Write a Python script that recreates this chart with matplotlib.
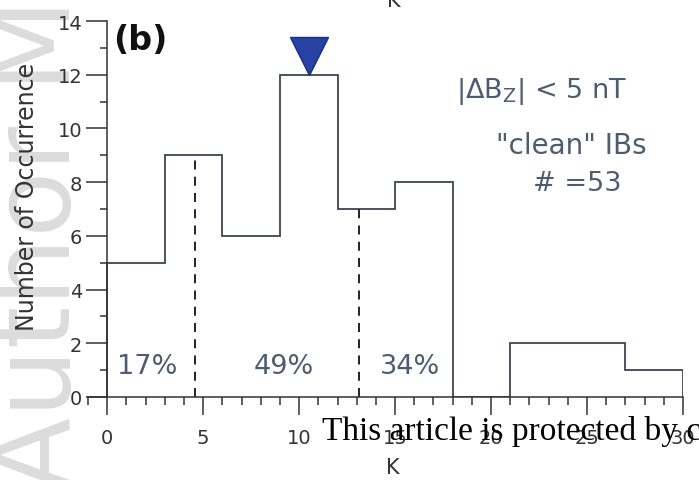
import matplotlib
matplotlib.use("Agg")
import matplotlib.pyplot as plt
from matplotlib.ticker import MultipleLocator

# ---- data ----
bin_edges = [0, 3, 6, 9, 12, 15, 18, 21, 24, 27, 30]
counts = [5, 9, 6, 12, 7, 8, 0, 2, 2, 1]
split_x = [4.6, 13.1]
split_top = [9, 7]
pct_labels = ["17%", "49%", "34%"]
pct_x = [2.1, 9.2, 15.8]
pct_y = 1.15
peak_x = 10.5
peak_y = 12.7
x_ticks = [0, 5, 10, 15, 20, 25, 30]
y_ticks = [0, 2, 4, 6, 8, 10, 12, 14]

plt.rcParams['font.family'] = ['DejaVu Sans']

W, H = 699, 481
fig = plt.figure(figsize=(W / 100, H / 100), dpi=100)

# watermark (behind everything)
fig.text(40 / W, -0.02, "Author Manuscript", rotation=90, ha='center', va='bottom',
         fontsize=78, color='#dcdcdc', zorder=-5)

ax = fig.add_axes([88 / W, (H - 398) / H, (683 - 88) / W, 376 / H])
ax.patch.set_alpha(0)

line_col = '#3c4652'
ax.stairs(counts, bin_edges, color=line_col, linewidth=1.3, baseline=0)

for xv, top in zip(split_x, split_top):
    ax.plot([xv, xv], [0, top], color='#111111', linestyle=(0, (5, 4)), linewidth=1.3)

txt_col = '#4d5c70'
for lab, xv in zip(pct_labels, pct_x):
    ax.text(xv, pct_y, lab, ha='center', va='center', fontsize=19.5, color=txt_col)

ax.plot([peak_x], [peak_y], marker='v', markersize=27, color='#2742a2',
        markeredgecolor='#1c2f80', markeredgewidth=1, linestyle='none', clip_on=False)

ax.text(0.3, 13.3, "(b)", fontsize=24, fontweight='bold', color='#111111', va='center', ha='left')

ax.text(22.65, 11.4, r"$|\Delta\mathrm{B_Z}|$ < 5 nT", ha='center', va='center',
        fontsize=19.5, color=txt_col)
ax.text(24.2, 9.4, "\"clean\" IBs", ha='center', va='center', fontsize=20, color=txt_col)
ax.text(24.5, 7.95, "# =53", ha='center', va='center', fontsize=19.5, color=txt_col)

ax.set_xlim(-1, 30)
ax.set_ylim(0, 14)
for s in ['top', 'right']:
    ax.spines[s].set_visible(False)
ax.spines['left'].set_position(('data', 0))
ax.spines['left'].set_bounds(0, 14)
for s in ['left', 'bottom']:
    ax.spines[s].set_color('#333333')
    ax.spines[s].set_linewidth(1.1)

ax.set_xticks(x_ticks)
ax.set_yticks(y_ticks)
ax.xaxis.set_minor_locator(MultipleLocator(1))
ax.yaxis.set_minor_locator(MultipleLocator(1))
ax.tick_params(axis='x', which='major', direction='out', length=13, width=1.1, pad=9,
               labelsize=14, colors='#333333')
ax.tick_params(axis='x', which='minor', direction='out', length=5.5, width=1.1, colors='#333333')
ax.tick_params(axis='y', which='major', direction='out', length=15, width=1.1, pad=3,
               labelsize=14, colors='#333333')
ax.tick_params(axis='y', which='minor', direction='out', length=5, width=1.1, colors='#333333')

ax.set_xlabel("K", fontsize=15, color='#333333')
ax.xaxis.set_label_coords((393 - 88) / 595, -0.16)
ax.set_ylabel("Number of Occurrence", fontsize=17, color='#333333')
ax.yaxis.set_label_coords(-0.082, 0.535)

# cut-off label from panel above
fig.text(394 / W, 1 - 7 / H, "K", ha='center', va='baseline', fontsize=15, color='#333333')

# copyright overlay
fig.text(322 / W, 1 - 440 / H, "This article is protected by copyright. All rights reserved",
         ha='left', va='baseline', fontsize=24.0, color='black', family='Liberation Serif', zorder=10)

fig.savefig("out.png", dpi=100)
